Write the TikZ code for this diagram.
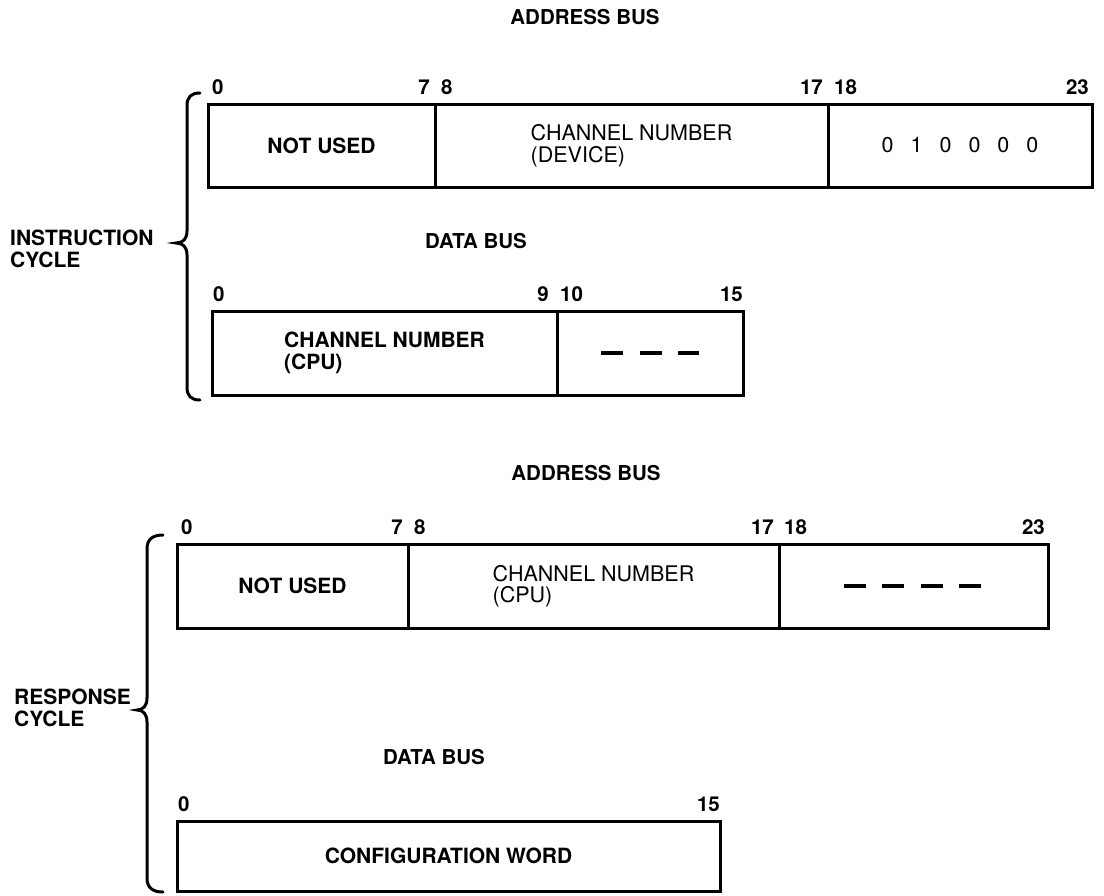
\documentclass[tikz,border=0pt]{standalone}
\usepackage{fontspec}
\setmainfont{TeX Gyre Heros}
\begin{document}
\begin{tikzpicture}[x=1pt,y=-1pt,
  field/.style={draw, line width=3pt, anchor=north west, inner sep=0pt, outer sep=0pt, align=left},
  bold/.style={font=\fontsize{21}{21.5}\selectfont\bfseries},
  plain/.style={font=\fontsize{21.5}{21.5}\selectfont},
  bitlbl/.style={inner sep=0pt, font=\fontsize{20.5}{20}\selectfont\bfseries},
  title/.style={inner sep=0pt, font=\fontsize{20.5}{20}\selectfont\bfseries},
  side/.style={inner sep=0pt, anchor=west, align=left, font=\fontsize{21}{22}\selectfont\bfseries},
  brace/.style={line width=3pt, line cap=round},
  blank/.style={line width=4pt, dash pattern=on 22pt off 16.5pt}]
\useasboundingbox (0,0) rectangle (1104,895);

% ---------- INSTRUCTION CYCLE ----------
\node[title] (ab1) at (585,17) {ADDRESS BUS};
\node[field,bold,minimum width=227pt,minimum height=83pt] (ia1) at (208,104) {NOT USED};
\node[field,plain,minimum width=393pt,minimum height=83pt] (ia2) at (435,104) {CHANNEL NUMBER\\(DEVICE)};
\node[field,plain,minimum width=264pt,minimum height=83pt] (ia3) at (828,104) {0\hspace{17pt}1\hspace{17pt}0\hspace{17pt}0\hspace{17pt}0\hspace{17pt}0};

\node[bitlbl,anchor=base west] (ia0n) at ([xshift=4pt,yshift=10pt]ia1.north west) {0};
\node[bitlbl,anchor=base east] (ia7n) at ([xshift=-5pt,yshift=10pt]ia1.north east) {7};
\node[bitlbl,anchor=base west] (ia8n) at ([xshift=6pt,yshift=10pt]ia2.north west) {8};
\node[bitlbl,anchor=base east] (ia17n) at ([xshift=-5pt,yshift=10pt]ia2.north east) {17};
\node[bitlbl,anchor=base west] (ia18n) at ([xshift=6pt,yshift=10pt]ia3.north west) {18};
\node[bitlbl,anchor=base east] (ia23n) at ([xshift=-3pt,yshift=10pt]ia3.north east) {23};

\node[title] (db1) at (476,241) {DATA BUS};
\node[field,bold,minimum width=345pt,minimum height=84pt] (id1) at (212,311) {CHANNEL NUMBER\\(CPU)};
\node[field,minimum width=186pt,minimum height=84pt] (id2) at (557,311) {};
\draw[blank] ([xshift=-49pt]id2.center) -- ([xshift=49pt]id2.center);

\node[bitlbl,anchor=base west] (id0n) at ([xshift=1pt,yshift=10pt]id1.north west) {0};
\node[bitlbl,anchor=base east] (id9n) at ([xshift=-8pt,yshift=10pt]id1.north east) {9};
\node[bitlbl,anchor=base west] (id10n) at ([xshift=3pt,yshift=10pt]id2.north west) {10};
\node[bitlbl,anchor=base east] (id15n) at ([xshift=0pt,yshift=10pt]id2.north east) {15};

\draw[brace] (200,93) .. controls (191,93) and (187,97) .. (187,106) -- (187,231)
  .. controls (187,239) and (183,243) .. (176,243)
  .. controls (183,243) and (187,247) .. (187,255) -- (187,387)
  .. controls (187,396) and (191,400) .. (200,400);
\node[side] (icyc) at (10,249) {INSTRUCTION\\CYCLE};

% ---------- RESPONSE CYCLE ----------
\node[title] (ab2) at (586,473) {ADDRESS BUS};
\node[field,bold,minimum width=231pt,minimum height=84pt] (ra1) at (177,544) {NOT USED};
\node[field,plain,minimum width=371pt,minimum height=84pt] (ra2) at (408,544) {CHANNEL NUMBER\\(CPU)};
\node[field,minimum width=269pt,minimum height=84pt] (ra3) at (779,544) {};
\draw[blank] ([xshift=-69.75pt]ra3.center) -- ([xshift=69.75pt]ra3.center);

\node[bitlbl,anchor=base west] (ra0n) at ([xshift=4pt,yshift=10pt]ra1.north west) {0};
\node[bitlbl,anchor=base east] (ra7n) at ([xshift=-5pt,yshift=10pt]ra1.north east) {7};
\node[bitlbl,anchor=base west] (ra8n) at ([xshift=6pt,yshift=10pt]ra2.north west) {8};
\node[bitlbl,anchor=base east] (ra17n) at ([xshift=-5pt,yshift=10pt]ra2.north east) {17};
\node[bitlbl,anchor=base west] (ra18n) at ([xshift=5pt,yshift=10pt]ra3.north west) {18};
\node[bitlbl,anchor=base east] (ra23n) at ([xshift=-3pt,yshift=10pt]ra3.north east) {23};

\node[title] (db2) at (434,757) {DATA BUS};
\node[field,bold,minimum width=543pt,minimum height=70pt] (rd1) at (177,821) {CONFIGURATION WORD};
\node[bitlbl,anchor=base west] (rd0n) at ([xshift=1pt,yshift=10pt]rd1.north west) {0};
\node[bitlbl,anchor=base east] (rd15n) at ([xshift=0pt,yshift=10pt]rd1.north east) {15};

\draw[brace] (163,535) .. controls (153,535) and (147,539) .. (147,549) -- (147,698)
  .. controls (147,706) and (143,710) .. (137,710)
  .. controls (143,710) and (147,714) .. (147,722) -- (147,878)
  .. controls (147,888) and (153,892) .. (163,892);
\node[side] (rcyc) at (14,708) {RESPONSE\\CYCLE};
\end{tikzpicture}
\end{document}
